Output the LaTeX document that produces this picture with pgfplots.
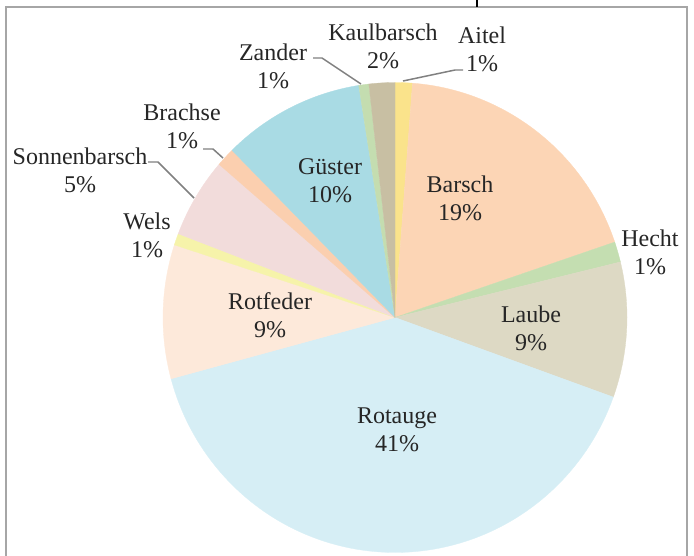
\documentclass[border=0pt]{standalone}
\usepackage{pgfplots}
\usepackage{pgfplotstable}
\pgfplotsset{compat=1.18}
\usepackage{fontspec}
\setmainfont{Liberation Serif}

% slice colours (clockwise from top)
\definecolor{c0}{HTML}{FAE38B}  % Aitel
\definecolor{c1}{HTML}{FCD5B5}  % Barsch
\definecolor{c2}{HTML}{C4DEB1}  % Hecht
\definecolor{c3}{HTML}{DDD9C4}  % Laube
\definecolor{c4}{HTML}{D6EEF5}  % Rotauge
\definecolor{c5}{HTML}{FDE9DA}  % Rotfeder
\definecolor{c6}{HTML}{F6F3AA}  % Wels
\definecolor{c7}{HTML}{F2DCDB}  % Sonnenbarsch
\definecolor{c8}{HTML}{FBCFAF}  % Brachse
\definecolor{c9}{HTML}{A9DBE4}  % Guester
\definecolor{c10}{HTML}{C4DDB0} % Zander
\definecolor{c11}{HTML}{C8BFA3} % Kaulbarsch
\definecolor{txt}{HTML}{262626}
\definecolor{lead}{HTML}{808080}
\definecolor{frame}{HTML}{A6A6A6}

\pgfplotstableread{
name value
Aitel 1.2
Barsch 18.6
Hecht 1.4
Laube 9.3
Rotauge 40.3
Rotfeder 9.2
Wels 0.8
Sonnenbarsch 5.5
Brachse 1.3
Guester 9.9
Zander 0.7
Kaulbarsch 1.8
}\pietable

% cumulative angles (clockwise from 12 o'clock)
\gdef\cum{0}
\pgfplotsforeachungrouped \i in {0,...,11}{%
  \pgfplotstablegetelem{\i}{value}\of\pietable
  \pgfmathsetmacro\sa{\cum*3.6}%
  \pgfmathsetmacro\newcum{\cum+\pgfplotsretval}%
  \pgfmathsetmacro\sb{\newcum*3.6}%
  \expandafter\xdef\csname sa\i\endcsname{\sa}%
  \expandafter\xdef\csname sb\i\endcsname{\sb}%
  \xdef\cum{\newcum}%
}

\newcommand\lab{\fontsize{24bp}{28bp}\selectfont}

\begin{document}
\begin{tikzpicture}
\begin{axis}[hide axis, scale only axis, width=694bp, height=556bp,
  xmin=0, xmax=694, ymin=0, ymax=556, y dir=reverse, clip=false,
  at={(0,0)}, anchor=south west]
\pgfplotsinvokeforeach{0,...,11}{
  \addplot[fill=c#1, draw=c#1, line width=0.3pt, samples=90,
    domain=\csname sa#1\endcsname:\csname sb#1\endcsname]
    ({395+232*sin(x)},{317.5-235*cos(x)}) -- (axis cs:395,317.5) -- cycle;
}
% frame
\addplot[frame, line width=1.2pt] coordinates {(6,556) (6,7) (687,7) (687,556)};
\addplot[black, line width=1.5pt] coordinates {(477,0) (477,7)};
% leader lines
\addplot[lead, line width=1.5pt] coordinates {(313,58) (322,58) (361,84)};
\addplot[lead, line width=1.5pt] coordinates {(403,81) (455,70) (463,70)};
\addplot[lead, line width=1.5pt] coordinates {(203,149) (213,149) (223,158)};
\addplot[lead, line width=1.5pt] coordinates {(148,162) (158,162) (194,198)};
% labels
\begin{scope}[every node/.style={font=\lab, align=center, text=txt, inner sep=0pt}]
\node at (axis cs:383,46) {Kaulbarsch\\2\%};
\node at (axis cs:482,49) {Aitel\\1\%};
\node at (axis cs:273,66) {Zander\\1\%};
\node at (axis cs:182,126) {Brachse\\1\%};
\node at (axis cs:80,170) {Sonnenbarsch\\5\%};
\node at (axis cs:147,235) {Wels\\1\%};
\node at (axis cs:330,181) {Güster\\10\%};
\node at (axis cs:460,198) {Barsch\\19\%};
\node at (axis cs:650,252) {Hecht\\1\%};
\node at (axis cs:531,328) {Laube\\9\%};
\node at (axis cs:270,315) {Rotfeder\\9\%};
\node at (axis cs:397,430) {Rotauge\\41\%};
\end{scope}
\end{axis}
\pgfresetboundingbox
\path[use as bounding box] (0,0) rectangle (694bp,556bp);
\end{tikzpicture}
\end{document}
